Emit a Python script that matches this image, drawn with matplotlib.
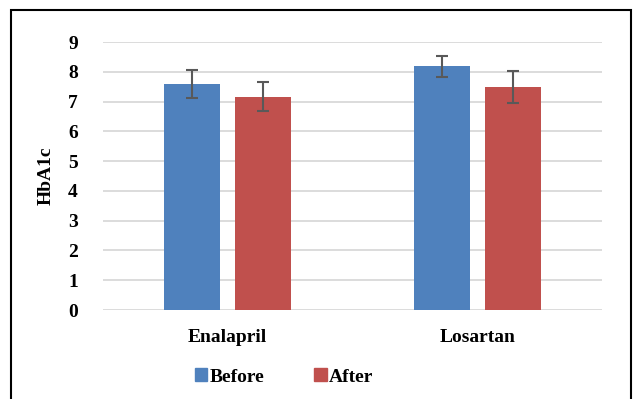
import numpy as np
import matplotlib.pyplot as plt
from matplotlib.patches import Rectangle, Patch

drugs = ["Enalapril", "Losartan"]
before = [7.6, 8.18]
after = [7.17, 7.49]
before_err = [0.47, 0.36]
after_err = [0.5, 0.54]

plt.rcParams["font.family"] = ["Liberation Serif", "DejaVu Serif"]
plt.rcParams["font.weight"] = "bold"

BLUE = "#4F81BD"
RED = "#C0504D"

fig = plt.figure(figsize=(6.33, 3.99), dpi=100)
ax = fig.add_axes([0.1627, 0.223, 0.951 - 0.1627, 0.8947 - 0.223])

x = np.arange(len(drugs))
w = 0.224
off = 0.142
err_kw = dict(ecolor="#595959", elinewidth=1.5, capsize=4.3, capthick=1.5)
ax.bar(x - off, before, w, yerr=before_err, color=BLUE, error_kw=err_kw, zorder=2)
ax.bar(x + off, after, w, yerr=after_err, color=RED, error_kw=err_kw, zorder=2)

ax.set_xlim(-0.5, 1.5)
ax.set_ylim(0, 9)
ax.set_yticks(range(10))
ax.yaxis.grid(True, color="#d9d9d9", linewidth=1.3, zorder=0)
ax.set_axisbelow(True)
for s in ax.spines.values():
    s.set_visible(False)
ax.tick_params(length=0, labelsize=14)
ax.tick_params(axis="y", pad=18)
ax.tick_params(axis="x", pad=14)
ax.set_xticks(x)
ax.set_xticklabels(drugs, fontweight="bold")
for t in ax.get_yticklabels():
    t.set_fontweight("bold")
ax.set_ylabel("HbA1c", fontsize=14, fontweight="bold", labelpad=10)

handles = [Patch(color=BLUE, label="Before"), Patch(color=RED, label="After")]
fig.legend(handles=handles, loc="center", bbox_to_anchor=(284 / 633, 1 - 377 / 399),
           ncol=2, frameon=False, fontsize=14, handlelength=0.65, handleheight=0.65,
           handletextpad=0.1, columnspacing=2.6, prop={"weight": "bold", "size": 14})

# outer frame
fig.patches.append(Rectangle((11 / 633, -0.05), (631 - 11) / 633, 1.05 - 10 / 399,
                             transform=fig.transFigure, fill=False,
                             edgecolor="black", linewidth=1.5))

fig.savefig("out.png", dpi=100)
